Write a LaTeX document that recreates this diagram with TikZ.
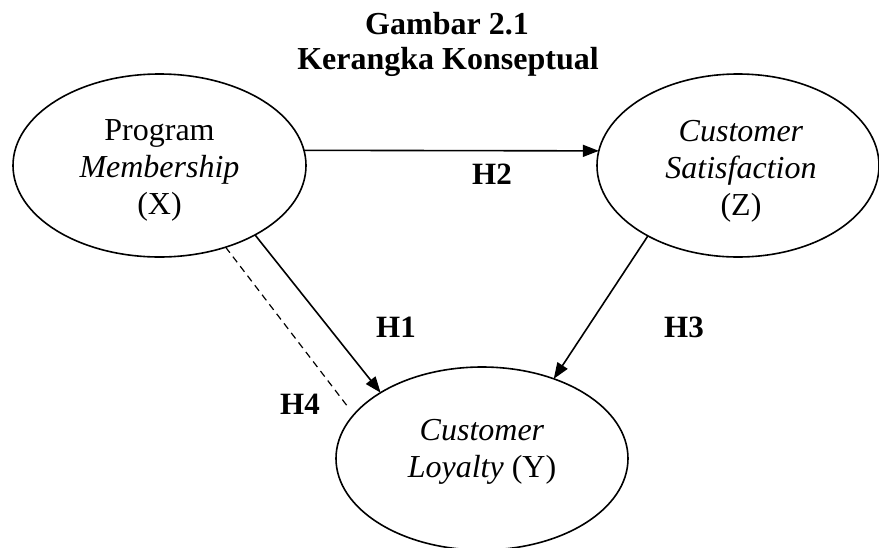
\documentclass[tikz,border=0pt]{standalone}
\usepackage{fontspec}
\setmainfont{Liberation Serif}
\usetikzlibrary{arrows.meta,shapes.geometric}
\begin{document}
\begin{tikzpicture}[x=1pt,y=-1pt,
  construct/.style={ellipse, draw, line width=1.6pt, outer sep=0pt, inner sep=0pt,
    minimum height=183pt},
  txt/.style={align=center, font=\fontsize{32}{37}\selectfont, inner sep=0pt},
  hyp/.style={font=\fontsize{31}{36}\selectfont\bfseries, inner sep=0pt},
  heading/.style={font=\fontsize{32}{35}\selectfont\bfseries, inner sep=0pt, anchor=base},
  link/.style={line width=1.6pt, -{Triangle[length=16pt,width=12pt]}},
  assoc/.style={line width=1.2pt, dash pattern=on 7pt off 5pt}]
\useasboundingbox (0,0) rectangle (879,547);
\clip (0,0) rectangle (879,547);

% title
\node[heading] (t1) at (447,34) {Gambar 2.1};
\node[heading] (t2) at (448,69) {Kerangka Konseptual};

% constructs
\node[construct, minimum width=293pt] (X) at (159.5,165.5) {};
\node[construct, minimum width=282pt] (Z) at (738,165.5) {};
\node[construct, minimum width=292pt] (Y) at (482,458.5) {};

\node[txt] (Xt) at (159.5,170) {Program\\\emph{Membership}\\(X)};
\node[txt] (Zt) at (741,171.5) {\emph{Customer}\\\emph{Satisfaction}\\(Z)};
\node[txt] (Yt) at (482,452) {\emph{Customer}\\\emph{Loyalty} (Y)};

% hypothesised paths
\draw[link] (X.6) -- (Z.174);
\draw[link] (X.-36.8) -- (Y.147.8);
\draw[link] (Z.-142.3) -- (Y.48.2);
\coordinate (h4end) at (348,407);
\draw[assoc] (X.-51.6) -- (h4end);

% hypothesis labels
\node[hyp] (h1) at (396,327) {H1};
\node[hyp] (h2) at (492,174) {H2};
\node[hyp] (h3) at (684,327) {H3};
\node[hyp] (h4) at (300,404) {H4};
\end{tikzpicture}
\end{document}
